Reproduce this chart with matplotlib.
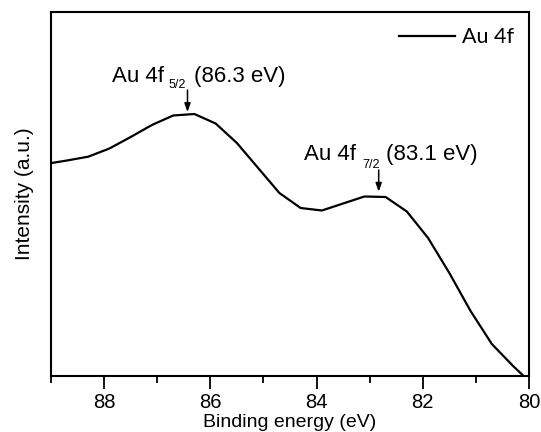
import matplotlib
matplotlib.use("Agg")
import matplotlib.pyplot as plt

# Data (binding energy in eV, intensity in arbitrary units)
energy = [89.1, 88.7, 88.3, 87.9, 87.5, 87.1, 86.7, 86.3, 85.9, 85.5, 85.1,
          84.7, 84.3, 83.9, 83.5, 83.1, 82.7, 82.3, 81.9, 81.5, 81.1, 80.7,
          80.3, 80.1]
intensity = [212, 215.5, 219.3, 227.5, 239, 251, 260.5, 262, 252.5, 233, 208,
             183, 168, 165.5, 172.5, 179.5, 179, 164.5, 138, 103, 65, 32,
             10, 0]
xticks = [88, 86, 84, 82, 80]
minor_ticks = [89, 87, 85, 83, 81]

plt.rcParams['font.family'] = ['Liberation Sans', 'DejaVu Sans']

fig = plt.figure(figsize=(5.41, 4.32), dpi=100)
ax = fig.add_axes([51/541, 1 - 376/432, (529-51)/541, (376-12)/432])

ax.plot(energy, intensity, color='black', lw=1.6, label='Au 4f')
ax.set_xlim(89, 80)
ax.set_ylim(0, 364)

ax.set_xticks(xticks)
ax.set_xticks(minor_ticks, minor=True)
ax.set_yticks([])
ax.tick_params(axis='x', which='major', direction='out', length=9, width=1.3,
               labelsize=14.5, pad=3)
ax.tick_params(axis='x', which='minor', direction='out', length=5, width=1.3)
for s in ax.spines.values():
    s.set_linewidth(1.5)

ax.set_xlabel('Binding energy (eV)', fontsize=14, labelpad=2)
ax.set_ylabel('Intensity (a.u.)', fontsize=15, labelpad=12)

leg = ax.legend(loc='upper right', frameon=False, handlelength=2.6,
                handletextpad=0.3, borderaxespad=0.3,
                prop={'family': 'Lato', 'size': 15.5})

# Annotations
fs = 16
sfs = 9
ax.text(87.86, 294, 'Au 4f', fontsize=fs, va='baseline', ha='left')
ax.text(86.78, 288.3, '5/2', fontsize=sfs, va='baseline', ha='left')
ax.text(86.31, 294, '(86.3 eV)', fontsize=fs, va='baseline', ha='left')
ax.annotate('', xy=(86.43, 264), xytext=(86.43, 286),
            arrowprops=dict(arrowstyle='-|>,head_length=0.5,head_width=0.18',
                            color='black', lw=1.1, shrinkA=0, shrinkB=0))

ax.text(84.23, 216, 'Au 4f', fontsize=fs, va='baseline', ha='left')
ax.text(83.14, 208.5, '7/2', fontsize=sfs, va='baseline', ha='left')
ax.text(82.69, 216, '(83.1 eV)', fontsize=fs, va='baseline', ha='left')
ax.annotate('', xy=(82.83, 184.3), xytext=(82.83, 206),
            arrowprops=dict(arrowstyle='-|>,head_length=0.5,head_width=0.18',
                            color='black', lw=1.1, shrinkA=0, shrinkB=0))

fig.savefig('out.png', dpi=100)
